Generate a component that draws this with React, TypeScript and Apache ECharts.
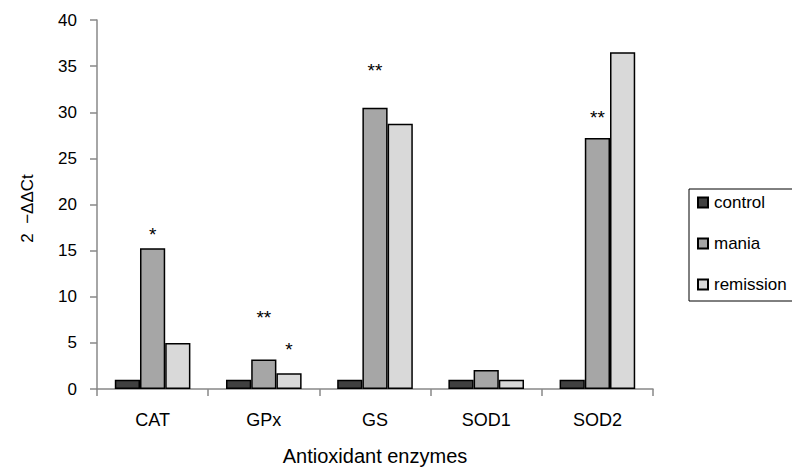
import React, { useEffect, useRef } from "react";
import * as echarts from "echarts";

const categories = ["CAT", "GPx", "GS", "SOD1", "SOD2"];
const seriesNames = ["control", "mania", "remission"];
const controlValues = [1, 1, 1, 1, 1];
const maniaValues = [15.25, 3.2, 30.5, 2.05, 27.2];
const remissionValues = [5.0, 1.7, 28.75, 1.0, 36.5];
const yTicks = { min: 0, max: 40, interval: 5 };

// significance markers: [category, height in axis units, text]
const maniaMarks: [string, number, string][] = [
  ["CAT", 16.7, "*"],
  ["GPx", 7.7, "**"],
  ["GS", 34.5, "**"],
  ["SOD2", 29.4, "**"],
];
const remissionMarks: [string, number, string][] = [["GPx", 4.3, "*"]];

const colors = ["#404040", "#a6a6a6", "#d9d9d9"];
const FONT = "'Liberation Sans', Arial, Helvetica, sans-serif";

function markPointOf(marks: [string, number, string][]) {
  return {
    symbol: "circle",
    symbolSize: 1,
    itemStyle: { color: "rgba(0,0,0,0)", borderWidth: 0 },
    label: {
      show: true,
      position: "inside",
      color: "#000",
      fontSize: 19,
      fontFamily: FONT,
      formatter: (p: any) => p.name,
    },
    data: marks.map(([c, v, t]) => ({ name: t, coord: [c, v] })),
  };
}

export default function App() {
  const ref = useRef<HTMLDivElement>(null);
  useEffect(() => {
    if (!ref.current) return;
    const chart = echarts.init(ref.current, undefined, { renderer: "svg" });
    const values = [controlValues, maniaValues, remissionValues];
    const marks = [null, maniaMarks, remissionMarks];
    chart.setOption({
      animation: false,
      backgroundColor: "#fff",
      textStyle: { fontFamily: FONT },
      grid: { left: 97, top: 20, right: 139, bottom: 78, containLabel: false, outerBoundsMode: "none" },
      legend: {
        orient: "vertical",
        left: 689,
        top: 189,
        itemGap: 24,
        itemWidth: 10,
        itemHeight: 10,
        padding: [5, 40, 8, 8],
        borderColor: "#000",
        borderWidth: 1,
        icon: "rect",
        textStyle: { fontSize: 17, color: "#000", fontFamily: FONT, padding: [0, 0, 0, 1] },
        data: seriesNames,
      },
      xAxis: {
        type: "category",
        data: categories,
        name: "Antioxidant enzymes",
        nameLocation: "middle",
        nameGap: 57,
        nameTextStyle: { fontSize: 20, color: "#000", fontFamily: FONT },
        axisLine: { lineStyle: { color: "#888", width: 1.5 } },
        axisTick: { show: true, length: 7, alignWithLabel: false, lineStyle: { color: "#888", width: 1.5 } },
        axisLabel: { fontSize: 18, color: "#000", margin: 22, fontFamily: FONT },
      },
      yAxis: {
        type: "value",
        min: yTicks.min,
        max: yTicks.max,
        interval: yTicks.interval,
        name: "2  \u2212\u0394\u0394Ct",
        nameLocation: "middle",
        nameGap: 61,
        nameRotate: 90,
        nameTextStyle: { fontSize: 17, color: "#000", fontFamily: FONT, padding: [0, 8, 0, 0] },
        axisLine: { show: true, lineStyle: { color: "#888", width: 1.5 } },
        axisTick: { show: true, length: 7, lineStyle: { color: "#888", width: 1.5 } },
        axisLabel: { fontSize: 17, color: "#000", margin: 20, fontFamily: FONT },
        splitLine: { show: false },
      },
      series: seriesNames.map((name, i) => ({
        name,
        type: "bar",
        data: values[i],
        barGap: "0%",
        barCategoryGap: "32%",
        itemStyle: { color: colors[i], borderColor: "#000", borderWidth: 1.5 },
        ...(marks[i] ? { markPoint: markPointOf(marks[i] as any) } : {}),
      })),
    });
    return () => chart.dispose();
  }, []);
  return <div ref={ref} style={{ width: 792, height: 467, position: "absolute", left: 0, top: 0 }} />;
}
